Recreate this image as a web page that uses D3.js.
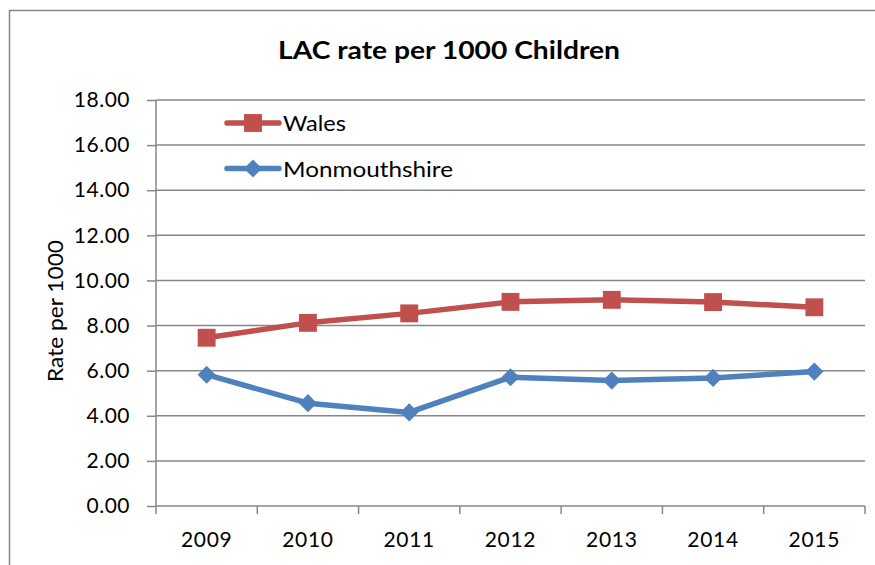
<!DOCTYPE html>
<meta charset="utf-8" />
<script src="https://d3js.org/d3.v7.min.js"></script>
<style>
  body { margin: 0; background: white; }
</style>
<div id="chart"></div>
<script>
  // data
  const years = ["2009", "2010", "2011", "2012", "2013", "2014", "2015"];
  const wales = [7.46, 8.12, 8.54, 9.05, 9.14, 9.04, 8.81];
  const monmouthshire = [5.82, 4.56, 4.15, 5.71, 5.56, 5.68, 5.96];
  const yTicks = [0, 2, 4, 6, 8, 10, 12, 14, 16, 18];

  const W = 875, H = 565;
  const margin = { top: 100, left: 156 };
  const width = 865 - margin.left,
    height = 506 - margin.top;
  const font = "Lato, 'Open Sans', sans-serif";
  const grey = "#878787";

  const root = d3.select("#chart").append("svg")
    .attr("width", W).attr("height", H)
    .style("display", "block");

  // outer chart border
  root.append("rect")
    .attr("x", 9.5).attr("y", 10.5)
    .attr("width", 900).attr("height", 600)
    .attr("fill", "white").attr("stroke", grey).attr("stroke-width", 1.5);

  root.append("text")
    .attr("x", 449).attr("y", 59)
    .attr("text-anchor", "middle")
    .attr("textLength", 342).attr("lengthAdjust", "spacingAndGlyphs")
    .style("font-family", font).style("font-weight", "bold").style("font-size", "24px")
    .text("LAC rate per 1000 Children");

  const svg = root.append("g").attr("transform", `translate(${margin.left},${margin.top})`);

  const x = d3.scaleBand().domain(years).range([0, width]);
  const y = d3.scaleLinear().domain([0, 18]).range([height, 0]);

  // gridlines
  svg.append("g")
    .selectAll("line").data(yTicks.slice(1)).join("line")
    .attr("x1", 0).attr("x2", width)
    .attr("y1", d => y(d)).attr("y2", d => y(d))
    .attr("stroke", grey).attr("stroke-width", 1.5);

  // y axis
  const yAxis = svg.append("g")
    .call(d3.axisLeft(y).tickValues(yTicks).tickSize(9).tickPadding(17).tickFormat(d3.format(".2f")));
  yAxis.selectAll("line, path").attr("stroke", grey).attr("stroke-width", 1.5);
  yAxis.select(".domain").attr("d", `M0,${height}V0`);
  yAxis.selectAll("text")
    .style("font-family", font).style("font-size", "21px").style("letter-spacing", "0.5px")
    .attr("fill", "#000");

  // x axis with ticks between categories
  const xAxis = svg.append("g").attr("transform", `translate(0,${height})`);
  xAxis.append("line").attr("x1", 0).attr("x2", width)
    .attr("stroke", grey).attr("stroke-width", 1.5);
  xAxis.selectAll(".tk").data(d3.range(years.length + 1)).join("line")
    .attr("x1", i => i * x.bandwidth()).attr("x2", i => i * x.bandwidth())
    .attr("y1", 0).attr("y2", 8)
    .attr("stroke", grey).attr("stroke-width", 1.5);
  xAxis.selectAll("text").data(years).join("text")
    .attr("x", d => x(d) + x.bandwidth() / 2).attr("y", 41)
    .attr("text-anchor", "middle")
    .style("font-family", font).style("font-size", "21px").style("letter-spacing", "0.7px")
    .text(d => d);

  // y axis title
  root.append("text")
    .attr("transform", "translate(63,311) rotate(-90)")
    .attr("text-anchor", "middle")
    .attr("textLength", 142).attr("lengthAdjust", "spacingAndGlyphs")
    .style("font-family", font).style("font-size", "21px")
    .text("Rate per 1000");

  const series = [
    { name: "Wales", values: wales, color: "#C0504D", marker: "square", w: 63 },
    { name: "Monmouthshire", values: monmouthshire, color: "#4F81BD", marker: "diamond", w: 170 }
  ];

  const line = d3.line()
    .x((d, i) => x(years[i]) + x.bandwidth() / 2)
    .y(d => y(d));

  const symSquare = d3.symbol().type(d3.symbolSquare).size(320);
  const symDiamond = d3.symbol().type(d3.symbolDiamond2).size(210);

  function markerPath(s) {
    return s.marker === "square" ? symSquare() : symDiamond();
  }

  series.forEach(s => {
    svg.append("path")
      .datum(s.values)
      .attr("d", line)
      .attr("fill", "none")
      .attr("stroke", s.color)
      .attr("stroke-width", 5.5)
      .attr("stroke-linejoin", "round");
    svg.selectAll(null).data(s.values).join("path")
      .attr("transform", (d, i) => `translate(${x(years[i]) + x.bandwidth() / 2},${y(d)})`)
      .attr("d", markerPath(s))
      .attr("fill", s.color);
  });

  // legend
  const legend = root.append("g");
  series.forEach((s, i) => {
    const ly = 123 + i * 45.5;
    legend.append("line")
      .attr("x1", 227).attr("x2", 279).attr("y1", ly).attr("y2", ly)
      .attr("stroke", s.color).attr("stroke-width", 5.5).attr("stroke-linecap", "round");
    legend.append("path")
      .attr("transform", `translate(253,${ly})`)
      .attr("d", markerPath(s))
      .attr("fill", s.color);
    legend.append("text")
      .attr("x", 283).attr("y", ly + 8)
      .attr("textLength", s.w).attr("lengthAdjust", "spacingAndGlyphs")
      .style("font-family", font).style("font-size", "22px")
      .text(s.name);
  });
</script>
